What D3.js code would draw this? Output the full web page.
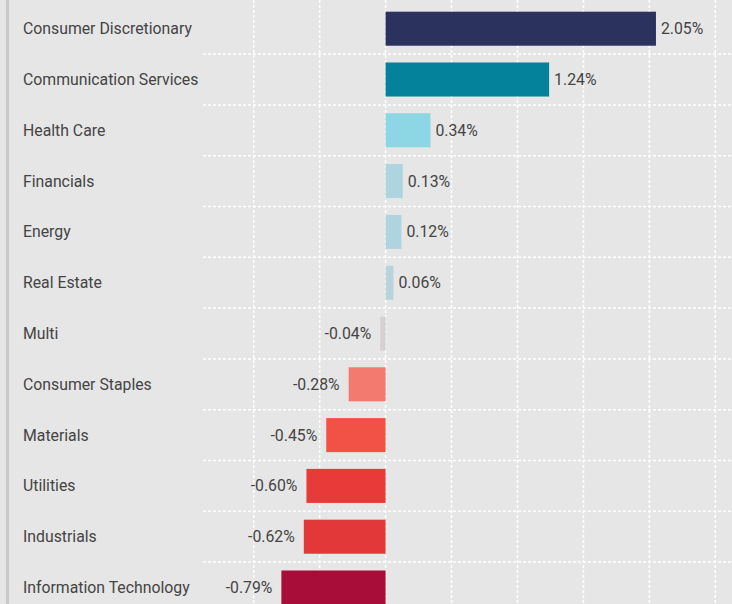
<!DOCTYPE html>
<html>
<head>
<meta charset="utf-8">
<script src="https://cdn.jsdelivr.net/npm/d3@7"></script>
<style>
  html, body { margin: 0; padding: 0; background: #e6e6e6; overflow: hidden; }
  #chart { width: 732px; height: 604px; }
</style>
</head>
<body>
<div id="chart"></div>
<script>
// sectors, top to bottom
const categories = [
    "Consumer Discretionary", "Communication Services", "Health Care", "Financials",
    "Energy", "Real Estate", "Multi", "Consumer Staples", "Materials",
    "Utilities", "Industrials", "Information Technology"
];

// return contribution, in percent
const values = [2.05, 1.24, 0.34, 0.13, 0.12, 0.06, -0.04, -0.28, -0.45, -0.60, -0.62, -0.79];

// bar colours, one per sector
const barColors = [
    "#2b325e", "#04819b", "#8dd6e3", "#aed5df", "#aed5df", "#b9d3db",
    "#d6d0d3", "#f27a6e", "#f25246", "#e83a38", "#e23839", "#a80c38"
];

// x grid ticks
const xTicks = [-1, -0.5, 0, 0.5, 1, 1.5, 2, 2.5];

const width = 732;
const height = 604;

const data = categories.map((name, i) => ({ name, value: values[i], color: barColors[i] }));

const svg = d3.select("#chart")
    .append("svg")
    .attr("width", width)
    .attr("height", height);

// background
svg.append("rect")
    .attr("width", width)
    .attr("height", height)
    .attr("fill", "#e6e6e6");

// left border
svg.append("rect")
    .attr("x", 6)
    .attr("width", 3)
    .attr("height", height)
    .attr("fill", "#c9c9c9");

// scales
const x = d3.scaleLinear()
    .domain([-1, 2.5])
    .range([253.7, 715.3]);

const step = 50.8;
const top0 = 3.3;
const y = d3.scaleBand()
    .domain(categories)
    .range([top0, top0 + step * categories.length])
    .paddingInner(0.33)
    .paddingOuter(0.165);

// horizontal grid between rows
svg.append("g")
    .selectAll("line")
    .data(d3.range(1, categories.length))
    .join("line")
    .attr("x1", 203)
    .attr("x2", width)
    .attr("y1", k => top0 + k * y.step())
    .attr("y2", k => top0 + k * y.step())
    .attr("stroke", "#ffffff")
    .attr("stroke-width", 1.5)
    .attr("stroke-dasharray", "3,2");

// vertical grid
svg.append("g")
    .selectAll("line")
    .data(xTicks)
    .join("line")
    .attr("x1", d => x(d))
    .attr("x2", d => x(d))
    .attr("y1", 0)
    .attr("y2", height)
    .attr("stroke", "#ffffff")
    .attr("stroke-width", 1.5)
    .attr("stroke-dasharray", "3,2");

// bars
svg.append("g")
    .selectAll("rect")
    .data(data)
    .join("rect")
    .attr("x", d => x(Math.min(0, d.value)))
    .attr("width", d => Math.abs(x(d.value) - x(0)))
    .attr("y", d => y(d.name))
    .attr("height", y.bandwidth())
    .attr("fill", d => d.color);

// category labels
svg.append("g")
    .attr("font-family", "Roboto, sans-serif")
    .attr("font-size", 15.8)
    .attr("fill", "#444")
    .selectAll("text")
    .data(data)
    .join("text")
    .attr("x", 23)
    .attr("y", d => y(d.name) + y.bandwidth() / 2)
    .attr("dy", "0.35em")
    .text(d => d.name);

// value labels (plain hyphen for the minus sign, like the original)
svg.append("g")
    .attr("font-family", "Roboto, sans-serif")
    .attr("font-size", 15.8)
    .attr("fill", "#444")
    .selectAll("text")
    .data(data)
    .join("text")
    .attr("x", d => d.value >= 0 ? x(d.value) + 5 : x(d.value) - 9)
    .attr("y", d => y(d.name) + y.bandwidth() / 2)
    .attr("dy", "0.35em")
    .attr("text-anchor", d => d.value >= 0 ? "start" : "end")
    .text(d => d.value.toFixed(2) + "%");
</script>
</body>
</html>
